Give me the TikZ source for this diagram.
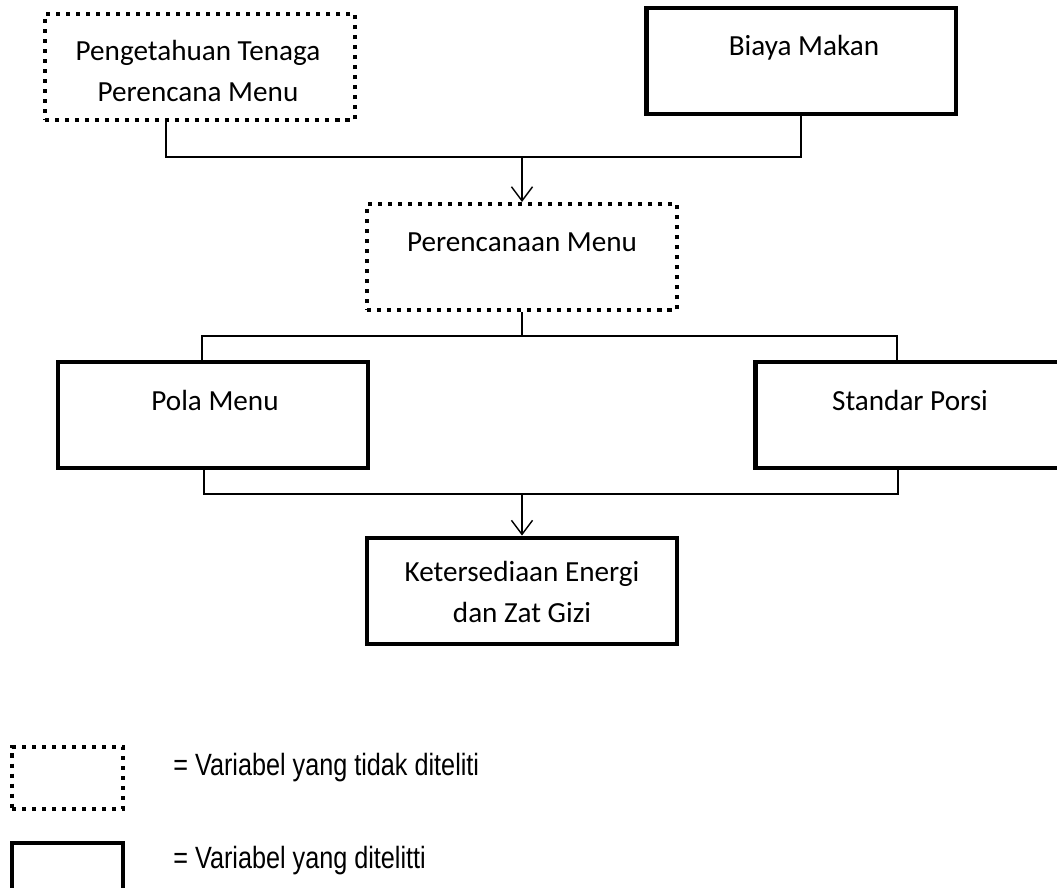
\documentclass[tikz,border=0pt]{standalone}
\usepackage{fontspec}
\setmainfont{Carlito}
\newfontfamily\legendfont[FakeStretch=0.82]{Liberation Sans}
\usetikzlibrary{arrows.meta}

\begin{document}
\begin{tikzpicture}[x=0.02cm, y=-0.02cm,
    solidbox/.style={draw, line width=2.8pt, minimum width=6.2cm, minimum height=2.12cm, inner sep=0pt},
    dotbox/.style={draw, line width=2.3pt, dash pattern=on 2.3pt off 3.4pt, minimum width=6.2cm, minimum height=2.12cm, inner sep=0pt},
    boxtext/.style={font=\fontsize{16.6}{23.8}\selectfont, inner sep=0pt},
    keytext/.style={font=\legendfont\fontsize{17.5}{20}\selectfont, inner sep=0pt},
    link/.style={line width=0.8pt},
    arrow/.style={link, -{Straight Barb[length=8pt,width=12pt]}}]
    \useasboundingbox (0,0) rectangle (1057,888);

    \node [dotbox] (peng) at (200,67) {};
    \node [solidbox] (biaya) at (801,61) {};
    \node [dotbox] (rencana) at (522,257) {};
    \node [solidbox] (pola) at (213,415) {};
    \node [solidbox] (standar) at (910,415) {};
    \node [solidbox] (keter) at (522,591) {};

    \node [boxtext, align=center] (pengtext) at (198,71) {Pengetahuan Tenaga\\Perencana Menu};
    \node [boxtext, anchor=base] (biayatext) at (804,56) {Biaya Makan};
    \node [boxtext, anchor=base] (rencanatext) at (522,252) {Perencanaan Menu};
    \node [boxtext, anchor=base] (polatext) at (215,410) {Pola Menu};
    \node [boxtext, anchor=base] (standartext) at (910,410) {Standar Porsi};
    \node [boxtext, align=center] (ketertext) at (522,592) {Ketersediaan Energi\\dan Zat Gizi};

    \coordinate (topjoin) at (522,157);
    \draw [link] ([xshift=-0.68cm]peng.south) |- (topjoin) -| (biaya.south);
    \draw [arrow] (topjoin) -- (rencana.north);

    \coordinate (midjoin) at (522,336);
    \draw [link] (rencana.south) -- (midjoin);
    \draw [link] ([xshift=-0.22cm]pola.north) |- (midjoin) -| ([xshift=-0.26cm]standar.north);

    \coordinate (lowjoin) at (522,494);
    \draw [link] ([xshift=-0.18cm]pola.south) |- (lowjoin) -| ([xshift=-0.24cm]standar.south);
    \draw [arrow] (lowjoin) -- (keter.north);

    % keterangan
    \node [dotbox, minimum width=2.22cm, minimum height=1.24cm] (dotkey) at (67.5,778) {};
    \node [solidbox, minimum width=2.22cm, minimum height=1.4cm] (solidkey) at (67.5,878) {};
    \node [keytext, anchor=base west] (dotlabel) at (173,775) {= Variabel yang tidak diteliti};
    \node [keytext, anchor=base west] (solidlabel) at (173,868) {= Variabel yang ditelitti};
\end{tikzpicture}
\end{document}
